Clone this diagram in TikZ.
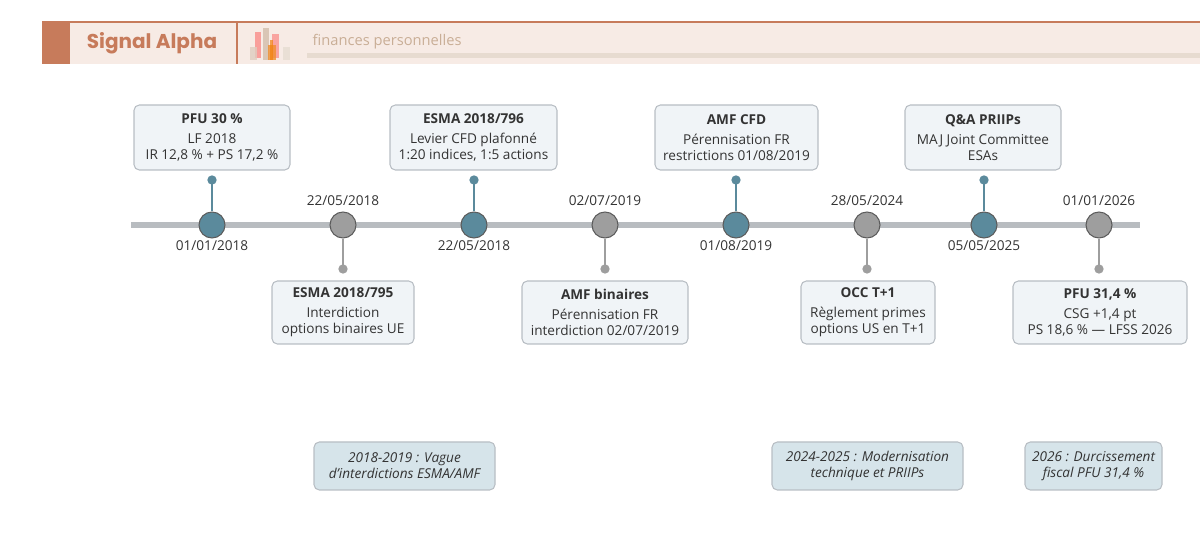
\documentclass[tikz,border=0pt]{standalone}
\usepackage{fontspec}
\setmainfont{Open Sans}
\newfontfamily\logofont{Poppins}
\usetikzlibrary{positioning}
\definecolor{rust}{HTML}{C77B5B}
\definecolor{blush}{HTML}{F7EBE5}
\definecolor{sand}{HTML}{C9AE96}
\definecolor{teal}{HTML}{5B8A9C}
\definecolor{stone}{HTML}{9E9E9E}
\definecolor{rail}{HTML}{B8BCC0}
\definecolor{card}{HTML}{F0F4F7}
\definecolor{cardline}{HTML}{B8BEC4}
\definecolor{era}{HTML}{D6E4EA}
\definecolor{ink}{HTML}{333333}
\tikzset{x=0.75pt, y=-0.75pt,
  every node/.style={text=ink, font=\fontsize{10.2}{12}\selectfont},
  card/.style={draw=cardline, fill=card, rounded corners=4pt, line width=0.8pt, align=center, inner sep=0pt},
  eracard/.style={draw=cardline, fill=era, rounded corners=4pt, line width=0.8pt, align=center, inner sep=0pt, font=\fontsize{10.2}{12}\selectfont\itshape},
  up/.style={circle, draw=ink!80, fill=teal, line width=0.8pt, minimum size=19.5pt, inner sep=0pt},
  down/.style={circle, draw=ink!80, fill=stone, line width=0.8pt, minimum size=19.5pt, inner sep=0pt},
  tip/.style={circle, inner sep=0pt, minimum size=7pt},
  date/.style={inner sep=0pt},
}
\newcommand{\cardtxt}[2]{\textbf{#1}\\[3pt]#2}
\begin{document}
\begin{tikzpicture}
\useasboundingbox (0,0) rectangle (1200,541);
% header
\fill[blush] (70,22) rectangle (1200,64);
\draw[rust, line width=0.8pt] (42,22) -- (1200,22);
\draw[rust, line width=0.8pt] (237,22) -- (237,64);
\fill[rust] (42,22) rectangle (70,64);
\node[text=rust, font=\logofont\fontsize{15}{17}\selectfont\bfseries] (brand) at (152,43) {Signal Alpha};
\fill[red!40!blush, opacity=.8] (255,32) rectangle (261,58);
\fill[sand!60, opacity=.8] (250,47) rectangle (257,60);
\fill[sand!70] (263,28) rectangle (269,60);
\fill[red!30!blush] (272,34) rectangle (279,58);
\fill[orange!70!sand, opacity=.8] (268,45) rectangle (276,60);
\fill[orange!80!brown, opacity=.7] (270,40) rectangle (273,60);
\fill[sand!40] (283,47) rectangle (290,60);
\node[anchor=west, text=sand, font=\fontsize{11}{13}\selectfont] (tagline) at (308,42) {finances personnelles};
\fill[sand!45] (307,53) rectangle (1200,58);
% timeline
\draw[rail, line width=5pt] (131,225) -- (1140,225);
\node[up] (e1) at (212,225) {};
\node[down] (e2) at (343,225) {};
\node[up] (e3) at (474,225) {};
\node[down] (e4) at (605,225) {};
\node[up] (e5) at (736,225) {};
\node[down] (e6) at (867,225) {};
\node[up] (e7) at (984,225) {};
\node[down] (e8) at (1099,225) {};
\node[tip, fill=teal] (t1) at (212,180) {};
\node[tip, fill=stone] (t2) at (343,269) {};
\node[tip, fill=teal] (t3) at (474,180) {};
\node[tip, fill=stone] (t4) at (605,269) {};
\node[tip, fill=teal] (t5) at (736,180) {};
\node[tip, fill=stone] (t6) at (867,269) {};
\node[tip, fill=teal] (t7) at (984,180) {};
\node[tip, fill=stone] (t8) at (1099,269) {};
\draw[teal, line width=1.2pt] (e1) -- (t1.center) (e3) -- (t3.center) (e5) -- (t5.center) (e7) -- (t7.center);
\draw[stone, line width=1.2pt] (e2) -- (t2.center) (e4) -- (t4.center) (e6) -- (t6.center) (e8) -- (t8.center);
% dates
\node[date] (d1) at (212,246) {01/01/2018};
\node[date] (d2) at (343,201) {22/05/2018};
\node[date] (d3) at (474,246) {22/05/2018};
\node[date] (d4) at (605,201) {02/07/2019};
\node[date] (d5) at (736,246) {01/08/2019};
\node[date] (d6) at (867,201) {28/05/2024};
\node[date] (d7) at (984,246) {05/05/2025};
\node[date] (d8) at (1099,201) {01/01/2026};
% cards
\node[card, minimum width=117pt, minimum height=48.75pt] (c1) at (212,137.5) {\cardtxt{PFU 30 \%}{LF 2018\\IR 12,8 \% + PS 17,2 \%}};
\node[card, minimum width=106.5pt, minimum height=47.25pt] (c2) at (343,312.5) {\cardtxt{ESMA 2018/795}{Interdiction\\options binaires UE}};
\node[card, minimum width=125.25pt, minimum height=48.75pt] (c3) at (473.5,137.5) {\cardtxt{ESMA 2018/796}{Levier CFD plafonné\\1:20 indices, 1:5 actions}};
\node[card, minimum width=124.5pt, minimum height=47.25pt] (c4) at (605,312.5) {\cardtxt{AMF binaires}{Pérennisation FR\\interdiction 02/07/2019}};
\node[card, minimum width=122.25pt, minimum height=48.75pt] (c5) at (736.5,137.5) {\cardtxt{AMF CFD}{Pérennisation FR\\restrictions 01/08/2019}};
\node[card, minimum width=100.5pt, minimum height=47.25pt] (c6) at (868,312.5) {\cardtxt{OCC T+1}{Règlement primes\\options US en T+1}};
\node[card, minimum width=117pt, minimum height=48.75pt] (c7) at (983,137.5) {\cardtxt{Q\&A PRIIPs}{MAJ Joint Committee\\ESAs}};
\node[card, minimum width=130.5pt, minimum height=47.25pt] (c8) at (1100,312.5) {\cardtxt{PFU 31,4 \%}{CSG +1,4 pt\\PS 18,6 \% — LFSS 2026}};
% periods
\node[eracard, minimum width=135.75pt, minimum height=36pt] (p1) at (404.5,466) {2018-2019 : Vague\\d’interdictions ESMA/AMF};
\node[eracard, minimum width=143.25pt, minimum height=36pt] (p2) at (867.5,466) {2024-2025 : Modernisation\\technique et PRIIPs};
\node[eracard, minimum width=102.75pt, minimum height=36pt] (p3) at (1093.5,466) {2026 : Durcissement\\fiscal PFU 31,4 \%};
\end{tikzpicture}
\end{document}
